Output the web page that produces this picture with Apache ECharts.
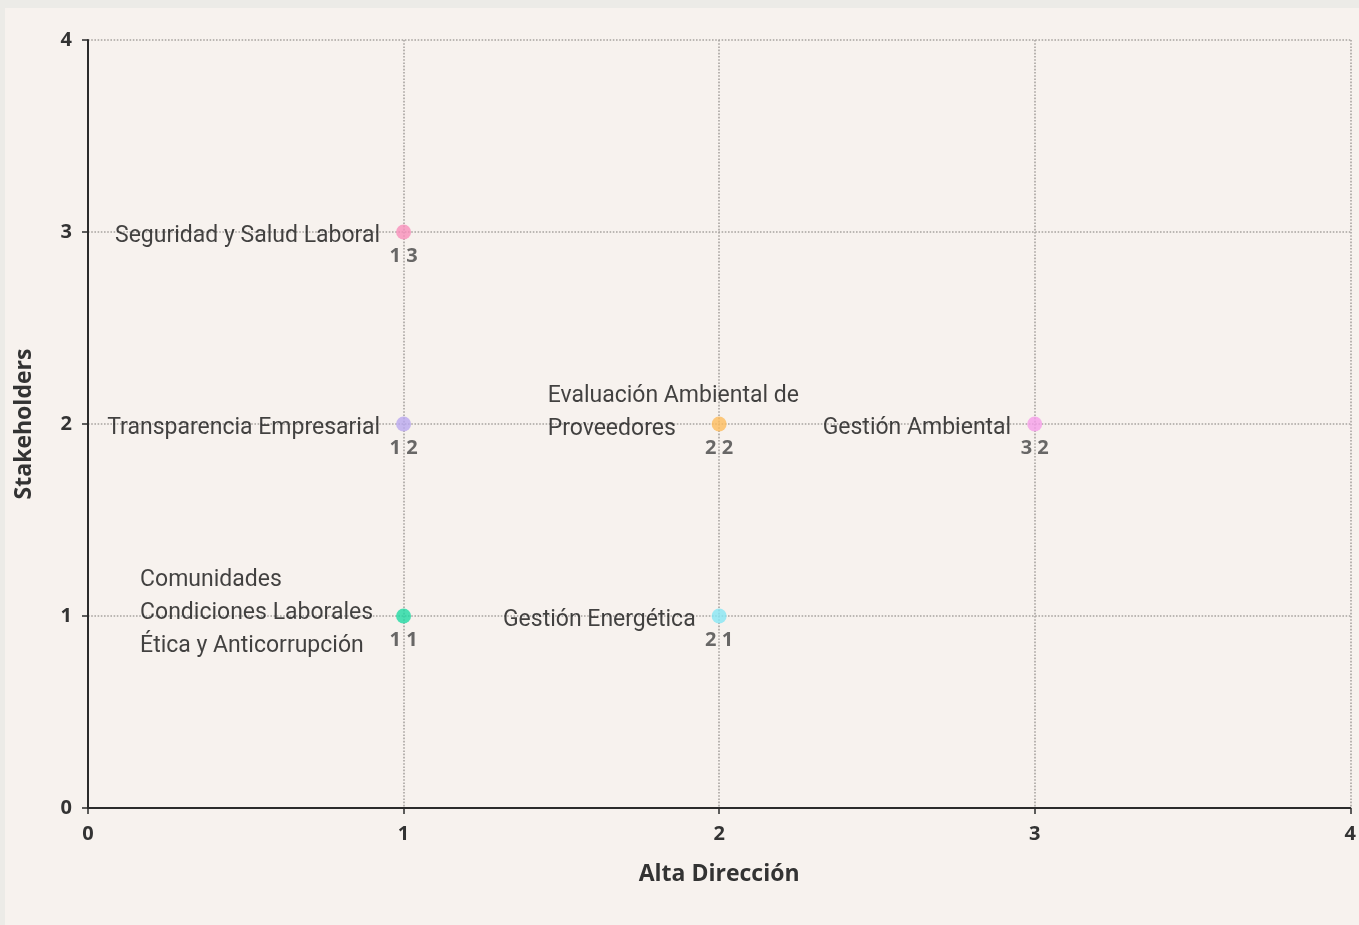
<!DOCTYPE html>
<html>
<head>
<meta charset="utf-8">
<script src="https://cdn.jsdelivr.net/npm/echarts@6/dist/echarts.min.js"></script>
<style>
html,body{margin:0;padding:0;background:#ecebe7;width:1359px;height:925px;overflow:hidden;}
#c{position:absolute;left:5px;top:8px;width:1354px;height:917px;background:#f7f2ee;}
</style>
</head>
<body>
<div id="c"></div>
<script>
// Data
const topics = [
  "Seguridad y Salud Laboral",
  "Transparencia Empresarial",
  "Evaluación Ambiental de\nProveedores",
  "Gestión Ambiental",
  "Comunidades\nCondiciones Laborales\nÉtica y Anticorrupción",
  "Gestión Energética"
];
const altaDireccion = [1, 1, 2, 3, 1, 2];
const stakeholders = [3, 2, 2, 2, 1, 1];
const xAxisName = "Alta Dirección";
const yAxisName = "Stakeholders";

// Styles
const pointColors = ["#f78fba", "#b9a8ef", "#fdbb5c", "#f59ee8", "#1fd9a3", "#86e6f4"];
const nameFont = "Roboto, 'Noto Sans', sans-serif";
const numFont = "'Open Sans', 'Noto Sans', sans-serif";

function nameLabel(i) {
  const base = {
    show: true,
    formatter: topics[i],
    color: "#141414",
    fontFamily: nameFont,
    fontSize: 23,
    lineHeight: 33
  };
  const lines = topics[i].split("\n").length;
  if (lines === 3) {
    return Object.assign(base, { position: [-256, 5], align: "left", verticalAlign: "middle" });
  }
  if (lines === 2) {
    return Object.assign(base, { position: [-164, -4], align: "left", verticalAlign: "middle" });
  }
  return Object.assign(base, { position: "left", distance: 16, offset: [0, 4] });
}

const mainData = altaDireccion.map((x, i) => ({
  value: [x, stakeholders[i]],
  itemStyle: { color: pointColors[i] },
  label: nameLabel(i)
}));
const coordData = altaDireccion.map((x, i) => ({
  value: [x, stakeholders[i]]
}));

const axisCommon = {
  type: "value",
  min: 0,
  max: 4,
  interval: 1,
  axisLine: { show: true, lineStyle: { color: "#2b2b2b", width: 2 } },
  axisTick: { show: true, length: 6, lineStyle: { color: "#2b2b2b", width: 1.5 } },
  splitLine: { show: true, lineStyle: { type: "dotted", color: "#a8a4a0", width: 1.6 } },
  nameTextStyle: { color: "#333", fontFamily: numFont, fontSize: 23, fontWeight: "bold" }
};
const tickLabel = { color: "#333", fontFamily: numFont, fontSize: 20, fontWeight: "bold" };

const chart = echarts.init(document.getElementById("c"));
chart.setOption({
  backgroundColor: "#f7f2ee",
  animation: false,
  grid: { left: 81, right: 7, top: 32, bottom: 117, containLabel: false },
  xAxis: Object.assign({}, axisCommon, {
    name: xAxisName,
    nameLocation: "middle",
    nameGap: 55,
    axisLabel: Object.assign({}, tickLabel, { margin: 16 })
  }),
  yAxis: Object.assign({}, axisCommon, {
    name: yAxisName,
    nameLocation: "middle",
    nameGap: 52,
    axisLabel: Object.assign({}, tickLabel, { margin: 16 })
  }),
  series: [
    {
      type: "scatter",
      symbolSize: 15,
      data: mainData,
      z: 3
    },
    {
      type: "scatter",
      symbolSize: 15,
      itemStyle: { color: "rgba(0,0,0,0)" },
      silent: true,
      data: coordData,
      labelLayout: { hideOverlap: false },
      label: {
        show: true,
        position: "bottom",
        distance: 7,
        color: "#444",
        fontFamily: numFont,
        fontSize: 20,
        fontWeight: "bold",
        formatter: p => p.value[0] + " " + p.value[1]
      },
      z: 4
    }
  ]
});
</script>
</body>
</html>
